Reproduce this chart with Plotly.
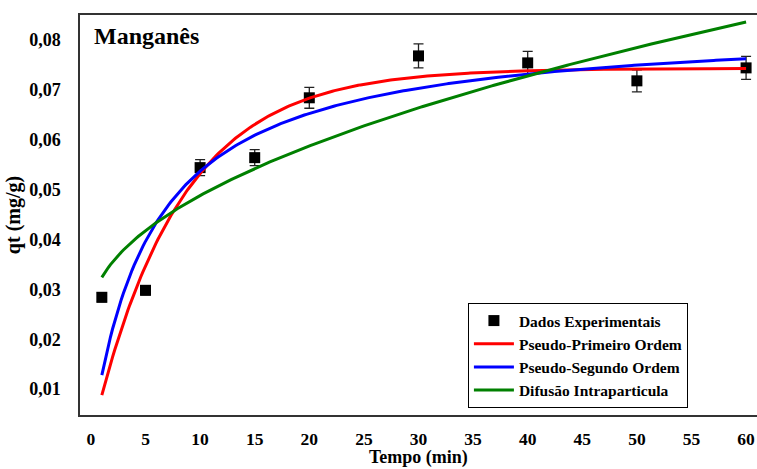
import numpy as np
import plotly.graph_objects as go

# Experimental kinetic data (Mn adsorption)
tempo = [1, 5, 10, 15, 20, 30, 40, 50, 60]
qt = [0.0284, 0.0298, 0.0544, 0.0564, 0.0684, 0.0768, 0.0754, 0.0718, 0.0744]
qt_erro = [0.0009, 0.0009, 0.0016, 0.0016, 0.0021, 0.0024, 0.0023, 0.0022, 0.0023]

# Fitted model parameters
pfo_qe, pfo_k1 = 0.0743, 0.126          # pseudo-primeira ordem
pso_qe, pso_k2 = 0.0832, 2.187          # pseudo-segunda ordem
dif_kid, dif_c = 0.00759, 0.0248        # difusao intraparticula

x_ticks = [0, 5, 10, 15, 20, 25, 30, 35, 40, 45, 50, 55, 60]
y_ticks = [0.01, 0.02, 0.03, 0.04, 0.05, 0.06, 0.07, 0.08]

t_fit = np.linspace(1, 60, 300)
q_pfo = pfo_qe * (1 - np.exp(-pfo_k1 * t_fit))
q_pso = pso_k2 * pso_qe**2 * t_fit / (1 + pso_k2 * pso_qe * t_fit)
q_dif = dif_kid * np.sqrt(t_fit) + dif_c

serif = "Liberation Serif"
fig = go.Figure()

fig.add_trace(go.Scatter(
    x=tempo, y=qt, mode="markers", name="Dados Experimentais", showlegend=False,
    marker=dict(symbol="square", size=11, color="black"),
    error_y=dict(type="data", array=qt_erro, color="#222", thickness=1.3, width=5),
))
fig.add_trace(go.Scatter(
    x=[None], y=[None], mode="markers", name="<b>Dados Experimentais</b>", legendgroup="g1",
    marker=dict(symbol="square", size=11, color="black"),
))
fig.add_trace(go.Scatter(x=t_fit, y=q_pfo, mode="lines", name="<b>Pseudo-Primeiro Ordem</b>",
                         legendgroup="g2", line=dict(color="#ff0000", width=3)))
fig.add_trace(go.Scatter(x=t_fit, y=q_pso, mode="lines", name="<b>Pseudo-Segundo Ordem</b>",
                         legendgroup="g3", line=dict(color="#0000ff", width=3)))
fig.add_trace(go.Scatter(x=t_fit, y=q_dif, mode="lines", name="<b>Difusão Intraparticula</b>",
                         legendgroup="g4", line=dict(color="#008000", width=3)))

fig.add_annotation(
    text="<b>Manganês</b>", xref="paper", yref="paper", x=0.018, y=0.9475,
    xanchor="left", yanchor="middle", showarrow=False,
    font=dict(family=serif, size=24, color="black"),
)
# x-axis title placed just below the tick labels
fig.add_annotation(
    text="<b>Tempo (min)</b>", xref="paper", yref="paper", x=0.5, y=-0.106,
    xanchor="center", yanchor="middle", showarrow=False,
    font=dict(family=serif, size=18, color="black"),
)

fig.update_layout(
    width=757, height=469,
    margin=dict(l=80, r=0, t=15, b=54),
    paper_bgcolor="white", plot_bgcolor="white",
    separators=",.",
    font=dict(family=serif, color="black"),
    legend=dict(
        x=0.573, y=0.28, xanchor="left", yanchor="top",
        bgcolor="white", bordercolor="black", borderwidth=1,
        font=dict(family=serif, size=15.5, color="black"),
        traceorder="grouped", tracegroupgap=0, itemwidth=40,
    ),
    xaxis=dict(
        range=[-1, 61], tickvals=x_ticks, showgrid=False, zeroline=False,
        showline=True, linecolor="#333", linewidth=1.5, mirror=True,
        ticks="", ticklabelstandoff=7,
        tickfont=dict(family=serif, size=17.5, color="black", weight="bold"),
    ),
    yaxis=dict(
        range=[0.0048, 0.085], tickvals=y_ticks, tickformat=".2f",
        showgrid=False, zeroline=False,
        showline=True, linecolor="#333", linewidth=1.5,
        ticks="", ticklabelstandoff=14,
        tickfont=dict(family=serif, size=18, color="black", weight="bold"),
        title=dict(text="qt (mg/g)", standoff=3,
                   font=dict(family=serif, size=20, color="black", weight="bold")),
    ),
)

fig.write_html("out.html")
